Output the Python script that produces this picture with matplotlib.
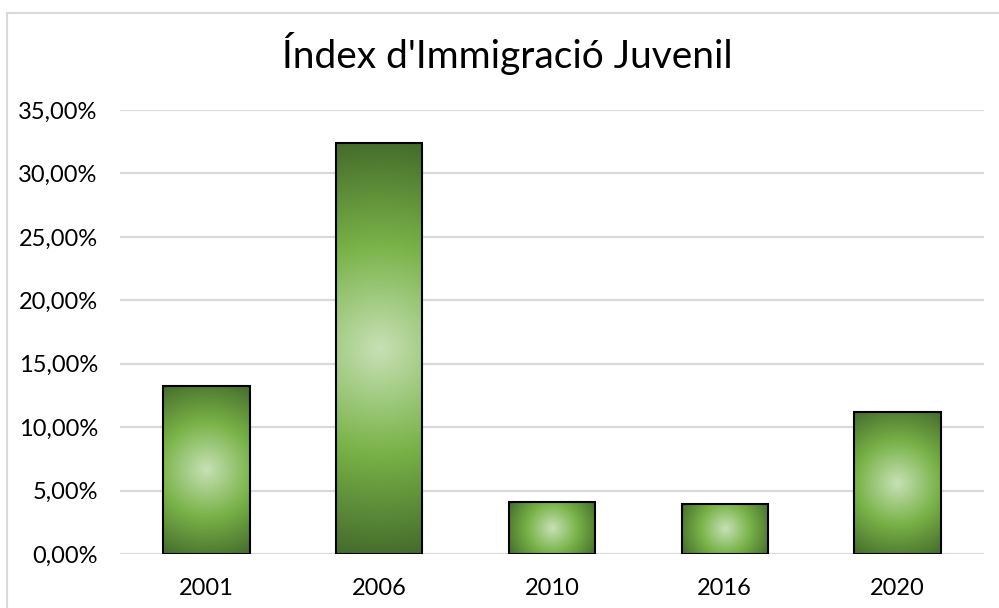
import matplotlib
matplotlib.use('Agg')
import matplotlib.pyplot as plt
import numpy as np
from matplotlib.colors import LinearSegmentedColormap
from matplotlib.patches import Rectangle
from matplotlib.ticker import FuncFormatter

plt.rcParams['font.family'] = ['Lato', 'DejaVu Sans']

years = ['2001', '2006', '2010', '2016', '2020']
values = [13.28, 32.36, 4.09, 3.96, 11.18]
title = "Índex d'Immigració Juvenil"

fig = plt.figure(figsize=(9.99, 6.08), dpi=100)
# light grey chart border
fig.patches.append(Rectangle((7 / 999, -0.05), 1.2, 1 - 13 / 608 + 0.05,
                             transform=fig.transFigure, fill=False,
                             edgecolor='#d9d9d9', linewidth=1.5))

ax = fig.add_axes([120 / 999, 1 - 554 / 608, (984 - 120) / 999, (554 - 110) / 608])
ax.set_xlim(-0.5, len(years) - 0.5)
ax.set_ylim(0, 35)
ax.set_yticks(np.arange(0, 36, 5))
ax.yaxis.set_major_formatter(FuncFormatter(lambda v, p: '{:.2f}%'.format(v).replace('.', ',')))
ax.set_xticks(range(len(years)))
ax.set_xticklabels(years)
ax.tick_params(length=0, labelsize=17, colors='black')
ax.tick_params(axis='y', pad=16)
ax.tick_params(axis='x', pad=17)
for s in ax.spines.values():
    s.set_visible(False)
ax.grid(axis='y', color='#d9d9d9', linewidth=1.6, zorder=0)
ax.set_axisbelow(True)

cmap = LinearSegmentedColormap.from_list('grn', [
    (0.0, (0.78, 0.88, 0.71)),
    (0.5, (0.47, 0.70, 0.28)),
    (1.0, (0.27, 0.42, 0.17)),
])

width = 0.5
fig.canvas.draw()
sx = ax.transData.transform((1, 0))[0] - ax.transData.transform((0, 0))[0]
sy = ax.transData.transform((0, 1))[1] - ax.transData.transform((0, 0))[1]
for i, v in enumerate(values):
    x0 = i - width / 2
    hw = width / 2 * sx
    hh = v / 2 * sy
    u, w = np.meshgrid(np.linspace(-1, 1, 200), np.linspace(-1, 1, 400))
    r = np.sqrt((u * hw) ** 2 + (w * hh) ** 2) / np.sqrt(hw ** 2 + hh ** 2)
    im = ax.imshow(r, cmap=cmap, vmin=0, vmax=1, extent=(x0, x0 + width, 0, v),
                   aspect='auto', origin='lower', zorder=2, interpolation='bilinear')
    rect = Rectangle((x0, 0), width, v, fill=False, edgecolor='black',
                     linewidth=1.5, zorder=3)
    ax.add_patch(rect)
    im.set_clip_path(rect)
ax.set_xlim(-0.5, len(years) - 0.5)
ax.set_ylim(0, 35)

fig.text(507 / 999, 1 - 68 / 608, title, ha='center', va='baseline', fontsize=28)

fig.savefig('out.png', dpi=100)
